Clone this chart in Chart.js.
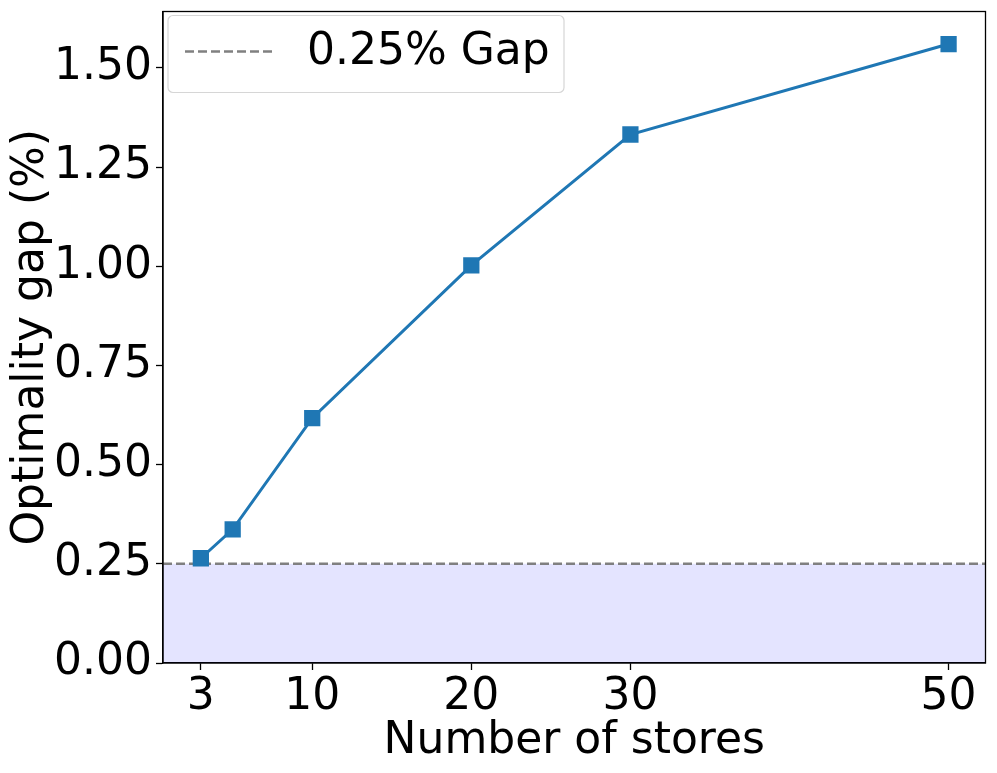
<!DOCTYPE html>
<html>
<head>
<meta charset="utf-8">
<script src="https://cdn.jsdelivr.net/npm/chart.js@4/dist/chart.umd.min.js"></script>
<style>
html,body{margin:0;padding:0;background:#fff;}
#wrap{width:997px;height:773px;position:relative;}
</style>
</head>
<body>
<div id="wrap"><canvas id="c" width="997" height="773"></canvas></div>
<script>
// ---- data ----
const stores = [3, 5, 10, 20, 30, 50];
const gapPct = [0.264, 0.337, 0.617, 1.002, 1.332, 1.560];
const thresholdLabel = '0.25% Gap';
const thresholdValue = 0.25;
const xTicks = [3, 10, 20, 30, 50];
const yTicks = [0, 0.25, 0.5, 0.75, 1.0, 1.25, 1.5];
const xRange = [0.62, 52.32];
const yRange = [0, 1.642];
const xTitle = 'Number of stores';
const yTitle = 'Optimality gap (%)';

const FONT = "'DejaVu Sans', sans-serif";
const FS = 44;

const framePlugin = {
  id: 'frame',
  afterDatasetsDraw(chart) {
    const {ctx, chartArea: a} = chart;
    ctx.save();
    ctx.strokeStyle = '#000';
    ctx.lineWidth = 1.3;
    ctx.strokeRect(a.left, a.top, a.right - a.left, a.bottom - a.top);
    ctx.restore();
  },
  afterDraw(chart) {
    // legend box inside plot area (upper left)
    const {ctx, chartArea: a} = chart;
    const ds = chart.data.datasets.find(d => d.showInLegend);
    const x0 = a.left + 5, y0 = a.top + 4, w = 396, h = 77;
    ctx.save();
    ctx.fillStyle = 'rgba(255,255,255,0.8)';
    ctx.strokeStyle = '#d6d6d6';
    ctx.lineWidth = 1.2;
    ctx.beginPath();
    ctx.roundRect(x0, y0, w, h, 5);
    ctx.fill();
    ctx.stroke();
    ctx.strokeStyle = ds.borderColor;
    ctx.lineWidth = ds.borderWidth;
    ctx.setLineDash(ds.borderDash);
    ctx.beginPath();
    ctx.moveTo(x0 + 17, y0 + 36);
    ctx.lineTo(x0 + 105, y0 + 36);
    ctx.stroke();
    ctx.setLineDash([]);
    ctx.fillStyle = '#000';
    ctx.font = FS + 'px ' + FONT;
    ctx.textBaseline = 'middle';
    ctx.textAlign = 'left';
    ctx.fillText(ds.label, x0 + 139, y0 + 37);
    ctx.restore();
  }
};

new Chart(document.getElementById('c'), {
  type: 'line',
  data: {
    datasets: [
      {
        label: 'gap',
        data: stores.map((s, i) => ({x: s, y: gapPct[i]})),
        borderColor: '#1f77b4',
        backgroundColor: '#1f77b4',
        borderWidth: 3,
        pointStyle: 'rect',
        pointRadius: 11.5,
        pointBorderWidth: 0,
        pointBackgroundColor: '#1f77b4',
        fill: false,
        order: 0,
        tension: 0
      },
      {
        label: thresholdLabel,
        showInLegend: true,
        data: xRange.map(x => ({x: x, y: thresholdValue})),
        borderColor: '#808080',
        borderWidth: 2.6,
        borderDash: [9, 4],
        pointRadius: 0,
        fill: false,
        order: 1
      },
      {
        label: 'band',
        data: xRange.map(x => ({x: x, y: thresholdValue})),
        borderWidth: 0,
        borderColor: 'rgba(0,0,0,0)',
        backgroundColor: 'rgba(0,0,255,0.105)',
        pointRadius: 0,
        fill: 'origin',
        order: 2
      }
    ]
  },
  options: {
    responsive: false,
    animation: false,
    devicePixelRatio: 1,
    layout: {padding: {top: 9, right: 10, bottom: 0, left: 0}},
    plugins: {
      legend: {display: false},
      tooltip: {enabled: false}
    },
    scales: {
      x: {
        type: 'linear',
        min: xRange[0],
        max: xRange[1],
        afterBuildTicks(scale) { scale.ticks = xTicks.map(v => ({value: v})); },
        afterFit(scale) { scale.height = 110; scale.paddingLeft = 0; scale.paddingRight = 0; },
        ticks: {
          font: {family: FONT, size: FS},
          color: '#000',
          padding: 1,
          maxRotation: 0,
          autoSkip: false,
          callback: v => String(v)
        },
        grid: {drawOnChartArea: false, drawTicks: true, tickLength: 7, tickColor: '#000', tickWidth: 1.3},
        border: {display: true, color: '#000', width: 1.3},
        title: {display: true, text: xTitle, color: '#000', font: {family: FONT, size: FS, lineHeight: 1}, padding: {top: 0, bottom: 9}}
      },
      y: {
        type: 'linear',
        min: yRange[0],
        max: yRange[1],
        afterBuildTicks(scale) { scale.ticks = yTicks.map(v => ({value: v})); },
        afterFit(scale) { scale.width = 163; scale.paddingTop = 0; scale.paddingBottom = 0; },
        ticks: {
          font: {family: FONT, size: FS},
          color: '#000',
          padding: 4,
          autoSkip: false,
          callback: v => Number(v).toFixed(2)
        },
        grid: {drawOnChartArea: false, drawTicks: true, tickLength: 7, tickColor: '#000', tickWidth: 1.3},
        border: {display: true, color: '#000', width: 1.3},
        title: {display: true, text: yTitle, color: '#000', font: {family: FONT, size: FS, lineHeight: 1}, padding: {top: 10, bottom: 0}}
      }
    }
  },
  plugins: [framePlugin]
});
</script>
</body>
</html>
